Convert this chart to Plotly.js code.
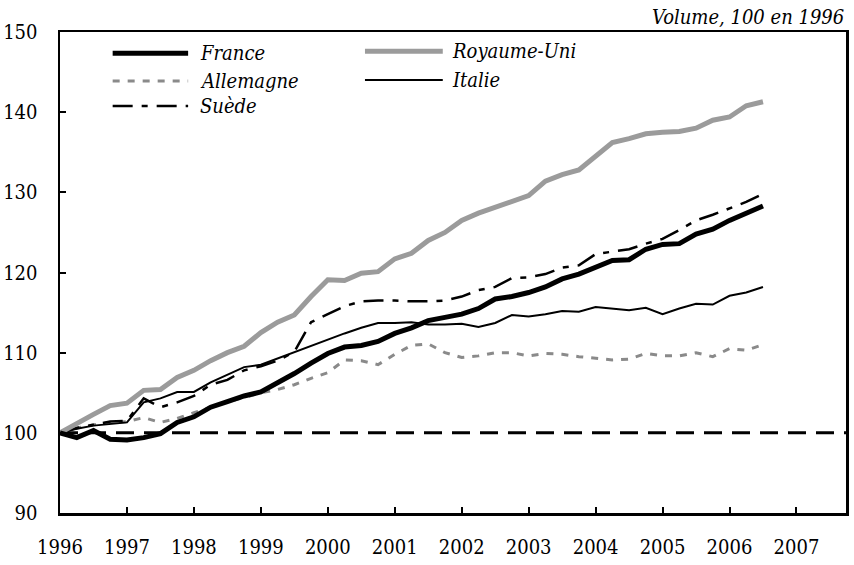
<!DOCTYPE html>
<html>
<head>
<meta charset="utf-8">
<script src="https://cdn.plot.ly/plotly-3.0.1.min.js"></script>
<style>
  html, body { margin: 0; padding: 0; background: #fff; }
  #chart { width: 854px; height: 565px; }
</style>
</head>
<body>
<div id="chart"></div>
<script>
// Quarterly index, volume, 100 in 1996 (1996T1 .. 2006T3)
const startYear = 1996;
const nQuarters = 43;

const france = [100.0, 99.4, 100.3, 99.2, 99.1, 99.4, 99.9, 101.3, 102.0, 103.2,
  103.9, 104.6, 105.1, 106.2, 107.4, 108.7, 109.9, 110.7, 110.9, 111.4,
  112.4, 113.1, 114.0, 114.4, 114.8, 115.5, 116.7, 117.0, 117.5, 118.2,
  119.2, 119.8, 120.6, 121.5, 121.6, 122.9, 123.5, 123.6, 124.8, 125.4,
  126.5, 127.4, 128.3];

const royaumeUni = [100.0, 101.2, 102.3, 103.4, 103.7, 105.3, 105.4, 106.9, 107.8, 109.0,
  110.0, 110.8, 112.5, 113.8, 114.7, 117.0, 119.1, 119.0, 119.9, 120.1,
  121.7, 122.4, 124.0, 125.0, 126.5, 127.4, 128.1, 128.8, 129.6, 131.4,
  132.2, 132.8, 134.5, 136.2, 136.7, 137.3, 137.5, 137.6, 138.0, 139.0,
  139.4, 140.8, 141.3];

const allemagne = [100.0, 100.6, 101.0, 101.3, 101.4, 101.9, 101.3, 101.8, 102.5, 103.2,
  103.9, 104.4, 105.0, 105.4, 106.0, 106.8, 107.5, 109.1, 109.0, 108.5,
  109.8, 110.9, 111.1, 110.0, 109.4, 109.6, 110.0, 110.0, 109.6, 109.9,
  109.8, 109.5, 109.3, 109.1, 109.2, 109.9, 109.6, 109.6, 110.0, 109.5,
  110.5, 110.3, 111.0];

const italie = [100.0, 100.5, 100.9, 101.1, 101.3, 103.8, 104.3, 105.1, 105.1, 106.3,
  107.3, 108.2, 108.5, 109.3, 110.1, 110.9, 111.6, 112.4, 113.1, 113.7,
  113.7, 113.8, 113.5, 113.5, 113.6, 113.2, 113.7, 114.7, 114.5, 114.8,
  115.2, 115.1, 115.7, 115.5, 115.3, 115.6, 114.8, 115.5, 116.1, 116.0,
  117.1, 117.5, 118.2];

const suede = [100.0, 100.6, 101.0, 101.4, 101.5, 104.3, 103.2, 103.8, 104.6, 106.0,
  106.6, 107.8, 108.3, 109.0, 110.1, 113.8, 114.8, 115.8, 116.4, 116.5,
  116.5, 116.4, 116.4, 116.5, 117.0, 117.8, 118.2, 119.3, 119.4, 119.8,
  120.6, 120.9, 122.3, 122.6, 122.9, 123.6, 124.2, 125.3, 126.5, 127.2,
  128.0, 128.8, 129.8];

const yearTicks = [1996, 1997, 1998, 1999, 2000, 2001, 2002, 2003, 2004, 2005, 2006, 2007];
const yTicks = [90, 100, 110, 120, 130, 140, 150];
const reference = 100;

// quarter positions on a year scale
const xq = [];
for (let i = 0; i < nQuarters; i++) xq.push(startYear + i / 4);

const SERIF = 'DejaVu Serif Condensed, DejaVu Serif';

const series = [
  {name: 'Allemagne', y: allemagne, line: {color: '#8a8a8a', width: 3, dash: '7px,8px'}},
  {name: 'Italie', y: italie, line: {color: '#000000', width: 2}},
  {name: 'Suède', y: suede, line: {color: '#000000', width: 2.5, dash: '20px,9px,6px,9px'}},
  {name: 'Royaume-Uni', y: royaumeUni, line: {color: '#9b9b9b', width: 5}},
  {name: 'France', y: france, line: {color: '#000000', width: 5}}
];

const traces = series.map(s => ({
  type: 'scatter', mode: 'lines', name: s.name,
  x: xq, y: s.y, line: s.line, showlegend: false, hoverinfo: 'x+y+name'
}));

// custom legend (two columns) drawn as shapes + annotations
const legendItems = [
  {name: 'France', line: {color: '#000000', width: 5}, x0: 0.067, x1: 0.163, y: 0.956, tx: 0.176},
  {name: 'Allemagne', line: {color: '#8a8a8a', width: 3, dash: '7px,8px'}, x0: 0.067, x1: 0.163, y: 0.898, tx: 0.176},
  {name: 'Suède', line: {color: '#000000', width: 2.5, dash: '20px,9px,6px,9px'}, x0: 0.067, x1: 0.163, y: 0.846, tx: 0.176},
  {name: 'Royaume-Uni', line: {color: '#9b9b9b', width: 5}, x0: 0.388, x1: 0.487, y: 0.960, tx: 0.496},
  {name: 'Italie', line: {color: '#000000', width: 2}, x0: 0.388, x1: 0.487, y: 0.900, tx: 0.496}
];

const shapes = [
  {type: 'line', xref: 'paper', yref: 'y', x0: 0, x1: 1, y0: reference, y1: reference,
   line: {color: '#000000', width: 3, dash: '18px,10px'}, layer: 'below'}
];
const annotations = [
  {text: '<i>Volume, 100 en 1996</i>', xref: 'paper', yref: 'paper', x: 1, y: 1.003,
   xanchor: 'right', yanchor: 'bottom', showarrow: false,
   font: {family: SERIF, size: 20, color: '#000'}}
];
legendItems.forEach(it => {
  shapes.push({type: 'line', xref: 'paper', yref: 'paper', x0: it.x0, x1: it.x1, y0: it.y, y1: it.y, line: it.line});
  annotations.push({text: '<i>' + it.name + '</i>', xref: 'paper', yref: 'paper', x: it.tx, y: it.y,
    xanchor: 'left', yanchor: 'middle', showarrow: false,
    font: {family: SERIF, size: 20, color: '#000'}});
});

const layout = {
  width: 854, height: 565,
  margin: {l: 60, r: 8, t: 32, b: 52},
  paper_bgcolor: '#ffffff', plot_bgcolor: '#ffffff',
  font: {family: SERIF, size: 20, color: '#000'},
  showlegend: false,
  xaxis: {
    range: [1996, 2007.74], tickvals: yearTicks, ticktext: yearTicks.map(String),
    ticks: 'inside', ticklen: 6, tickwidth: 2, tickcolor: '#000',
    showline: true, linecolor: '#000', linewidth: 2.5, mirror: true,
    showgrid: false, zeroline: false, ticklabelstandoff: 14,
    tickfont: {family: SERIF, size: 20, color: '#000'}
  },
  yaxis: {
    range: [90, 150], tickvals: yTicks,
    ticks: 'inside', ticklen: 6, tickwidth: 2, tickcolor: '#000',
    showline: true, linecolor: '#000', linewidth: 2.5, mirror: true,
    showgrid: false, zeroline: false, ticklabelstandoff: 16,
    tickfont: {family: SERIF, size: 20, color: '#000'}
  },
  shapes: shapes,
  annotations: annotations
};

Plotly.newPlot('chart', traces, layout, {displayModeBar: false, staticPlot: true});
</script>
</body>
</html>
